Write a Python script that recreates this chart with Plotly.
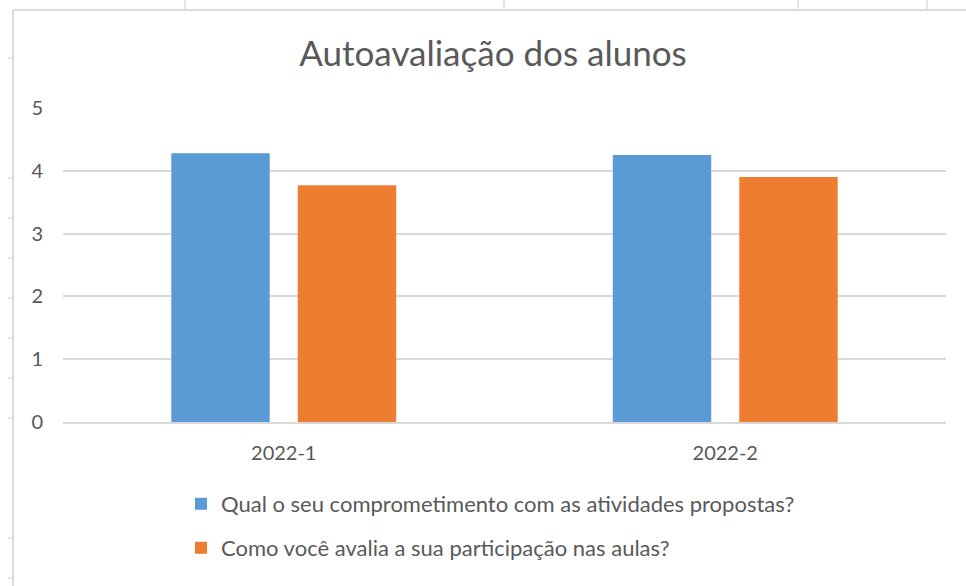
import plotly.graph_objects as go

categories = ["2022-1", "2022-2"]
series_names = [
    "Qual o seu comprometimento com as atividades propostas?",
    "Como você avalia a sua participação nas aulas?",
]
comprometimento = [4.28, 4.25]
participacao = [3.77, 3.90]
y_ticks = [0, 1, 2, 3, 4, 5]

W, H = 966, 586
L, R, T, B = 63, 20, 108, 164
PW, PH = W - L - R, H - T - B

def px_x(px):
    return (px - L) / PW

def px_y(py):
    return (H - B - py) / PH

FONT = "Lato"
TXT = "#595959"
GRID = "#D9D9D9"

fig = go.Figure()
fig.add_trace(go.Bar(x=categories, y=comprometimento, name=series_names[0],
                     marker=dict(color="#5B9BD5", line=dict(width=0)),
                     legend="legend"))
fig.add_trace(go.Bar(x=categories, y=participacao, name=series_names[1],
                     marker=dict(color="#ED7D31", line=dict(width=0)),
                     legend="legend2"))

shapes = []
frame = dict(type="line", xref="paper", yref="paper", layer="below",
             line=dict(color="#DCDCDC", width=2))
shapes.append({**frame, "x0": px_x(13), "x1": px_x(970), "y0": px_y(10), "y1": px_y(10)})
shapes.append({**frame, "x0": px_x(13), "x1": px_x(13), "y0": px_y(10), "y1": px_y(590)})
tick = dict(type="line", xref="paper", yref="paper", layer="below",
            line=dict(color="#DCDCDC", width=1.5))
for tx in [185, 504, 798, 927]:
    shapes.append({**tick, "x0": px_x(tx), "x1": px_x(tx), "y0": px_y(0), "y1": px_y(9)})
for ty in [58, 178, 218, 258, 298, 338, 378, 418, 538, 578]:
    shapes.append({**tick, "x0": px_x(8), "x1": px_x(13), "y0": px_y(ty), "y1": px_y(ty)})

fig.update_layout(
    width=W, height=H,
    margin=dict(l=L, r=R, t=T, b=B, pad=0),
    paper_bgcolor="white", plot_bgcolor="white",
    font=dict(family=FONT, color=TXT),
    title=dict(text="Autoavaliação dos alunos", x=px_x(493), xref="paper",
               xanchor="center", y=1 - 54 / H, yanchor="middle",
               font=dict(family=FONT, size=35, color=TXT)),
    barmode="group", bargap=0.427, bargroupgap=0.222,
    xaxis=dict(type="category", showgrid=False, showline=True, linecolor=GRID,
               linewidth=1.5, ticks="", tickfont=dict(size=20, color=TXT),
               ticklabelstandoff=12),
    yaxis=dict(range=[0, 5], tickvals=y_ticks, showgrid=True, gridcolor=GRID,
               gridwidth=1.5, zeroline=False, showline=False, ticks="",
               tickfont=dict(size=20, color=TXT), ticklabelstandoff=19),
    legend=dict(x=px_x(181), y=px_y(504), xanchor="left", yanchor="middle",
                orientation="v", font=dict(size=22, color=TXT),
                bgcolor="rgba(0,0,0,0)", itemclick=False),
    legend2=dict(x=px_x(181), y=px_y(548), xanchor="left", yanchor="middle",
                 orientation="v", font=dict(size=22, color=TXT),
                 bgcolor="rgba(0,0,0,0)", itemclick=False),
    shapes=shapes,
    showlegend=True,
)

fig.write_html("out.html")
